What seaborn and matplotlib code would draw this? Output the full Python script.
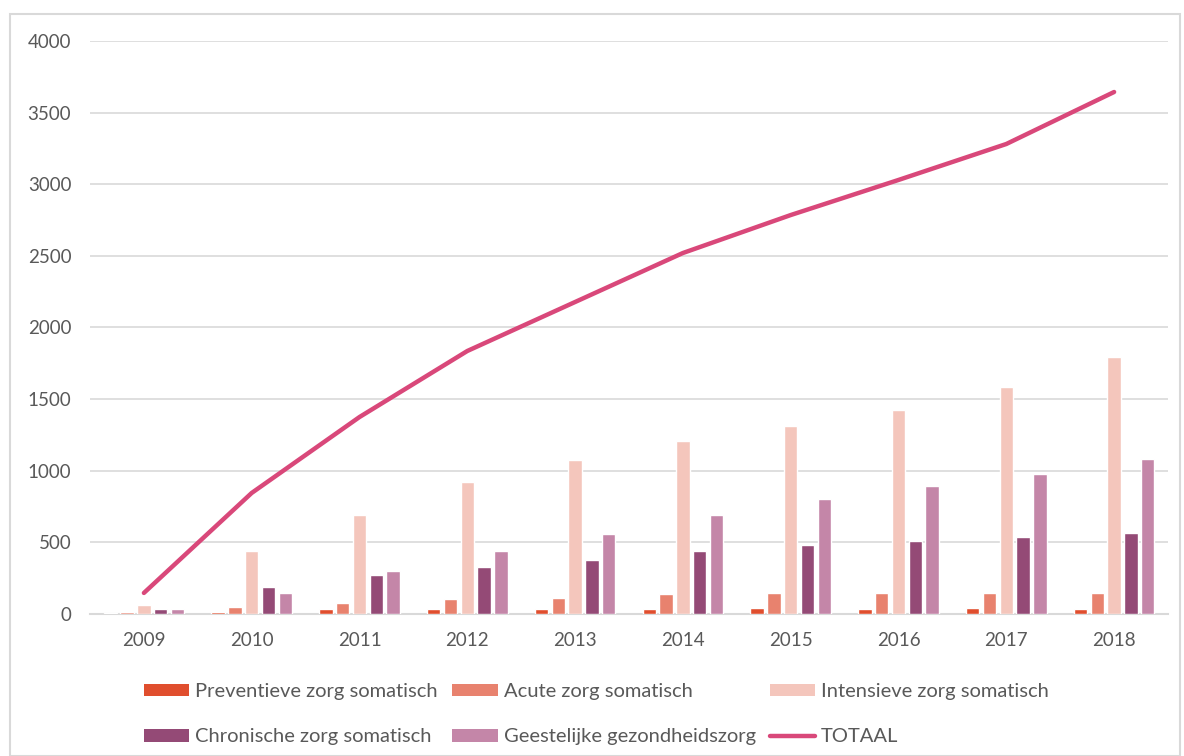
import numpy as np
import pandas as pd
import matplotlib
matplotlib.use("Agg")
import matplotlib.pyplot as plt
import seaborn as sns
from matplotlib.patches import Patch, Rectangle
from matplotlib.lines import Line2D

# data
years = ["2009", "2010", "2011", "2012", "2013", "2014", "2015", "2016", "2017", "2018"]
preventief = [9, 16, 33, 33, 33, 33, 40, 33, 40, 38]
acuut = [11, 49, 75, 107, 114, 140, 149, 150, 150, 150]
intensief = [60, 440, 690, 920, 1075, 1208, 1312, 1424, 1585, 1794]
chronisch = [35, 185, 275, 330, 375, 440, 480, 510, 535, 562]
ggz = [35, 145, 300, 440, 560, 690, 800, 895, 975, 1082]
totaal = [147, 845, 1375, 1836, 2178, 2520, 2785, 3030, 3281, 3644]

series = ["Preventieve zorg somatisch", "Acute zorg somatisch", "Intensieve zorg somatisch",
          "Chronische zorg somatisch", "Geestelijke gezondheidszorg"]
colors = ["#E04E2E", "#E8826E", "#F4C6BC", "#944A76", "#C486A8"]
line_color = "#D9487A"

rows = []
for name, vals in zip(series, [preventief, acuut, intensief, chronisch, ggz]):
    for y, v in zip(years, vals):
        rows.append({"Jaar": y, "Zorg": name, "Waarde": v})
df = pd.DataFrame(rows)

sns.set_style("white")
plt.rcParams['font.family'] = ['Lato', 'DejaVu Sans']

fig = plt.figure(figsize=(11.84, 7.56), dpi=100)
ax = fig.add_axes([90 / 1184, 1 - 614 / 756, (1168 - 90) / 1184, (614 - 41) / 756])

sns.barplot(data=df, x="Jaar", y="Waarde", hue="Zorg", hue_order=series,
            palette=colors, saturation=1, width=0.78, gap=0.2, legend=False,
            ax=ax, zorder=3)
sns.lineplot(x=np.arange(len(years)), y=totaal, color=line_color, linewidth=3.2,
             ax=ax, zorder=4, solid_capstyle="round")

ax.set_ylim(0, 4000)
ax.set_yticks(np.arange(0, 4001, 500))
ax.set_xlim(-0.5, len(years) - 0.5)
ax.yaxis.grid(True, color="#D9D9D9", linewidth=1.2, zorder=0)
ax.set_axisbelow(True)
for s in ["top", "right", "left"]:
    ax.spines[s].set_visible(False)
ax.spines["bottom"].set_color("#D9D9D9")
ax.spines["bottom"].set_linewidth(1.5)
ax.spines["bottom"].set_zorder(1)
ax.tick_params(axis="both", length=0, labelsize=13.5, labelcolor="#595959")
ax.tick_params(axis="y", pad=13.5)
ax.tick_params(axis="x", pad=13)
ax.set_xlabel("")
ax.set_ylabel("")

handles = [Patch(facecolor=c, edgecolor="none") for c in colors]
handles.append(Line2D([0], [0], color=line_color, linewidth=3.2, solid_capstyle="round"))
labels = series + ["TOTAAL"]
order = [0, 3, 1, 4, 2, 5]
fig.legend([handles[i] for i in order], [labels[i] for i in order],
           loc="upper left", bbox_to_anchor=(126 / 1184, 1 - 665 / 756), ncol=3,
           frameon=False, fontsize=14.5, labelcolor="#595959", handlelength=2.25,
           handleheight=0.6, handletextpad=0.3, columnspacing=0.7, labelspacing=1.4)

fig.patches.append(Rectangle((10 / 1184, 0), 1 - 14 / 1184, 1 - 14 / 756,
                             transform=fig.transFigure, fill=False,
                             edgecolor="#D9D9D9", linewidth=1.5))

fig.savefig("out.png", dpi=100)
